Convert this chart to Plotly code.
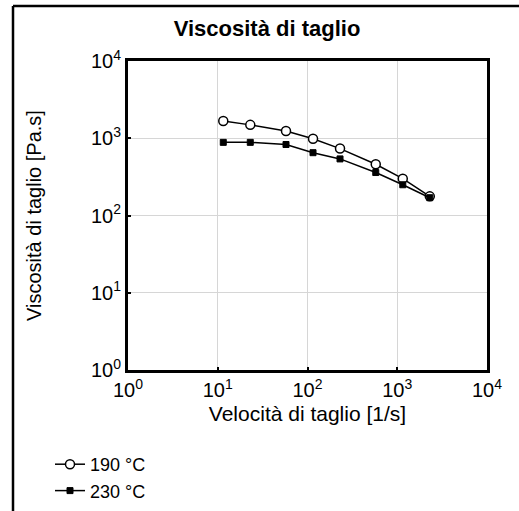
import plotly.graph_objects as go

shear_rate = [11.52, 23.04, 57.6, 115.2, 230.4, 576, 1152, 2304]
visc_190 = [1670, 1490, 1240, 985, 735, 460, 300, 177]
visc_230 = [885, 885, 830, 650, 540, 360, 250, 170]
series_names = ["190 °C", "230 °C"]
tick_vals = [1, 10, 100, 1000, 10000]
tick_text = ["10<sup>0</sup>", "10<sup>1</sup>", "10<sup>2</sup>", "10<sup>3</sup>", "10<sup>4</sup>"]

FONT = "Liberation Sans, Arial, sans-serif"
FS = 20

fig = go.Figure()
fig.add_trace(go.Scatter(
    x=shear_rate, y=visc_190, name=series_names[0], mode="lines+markers",
    line=dict(color="black", width=1.5),
    marker=dict(symbol="circle", size=9, color="white", line=dict(color="black", width=1.5)),
))
fig.add_trace(go.Scatter(
    x=shear_rate, y=visc_230, name=series_names[1], mode="lines+markers",
    line=dict(color="black", width=1.5),
    marker=dict(symbol="square", size=6, color="black", line=dict(color="black", width=1)),
))

L, R, T, B = 128, 32, 61, 141
W, H = 519, 511
pw, ph = W - L - R, H - T - B

def px2x(p):
    return (p - L) / pw

def px2y(p):
    return (H - B - p) / ph

fig.update_layout(
    width=W, height=H,
    margin=dict(l=L, r=R, t=T, b=B, autoexpand=False),
    paper_bgcolor="white", plot_bgcolor="white",
    font=dict(family=FONT, size=FS, color="black"),
    title=dict(text="<b>Viscosità di taglio</b>", x=267 / W, xref="container", xanchor="center",
               y=1 - 28 / H, yref="container", yanchor="middle",
               font=dict(family=FONT, size=22, color="black")),
    showlegend=True,
    legend=dict(x=px2x(50), y=px2y(446), xanchor="left", yanchor="top",
                font=dict(family=FONT, size=18, color="black"),
                bgcolor="rgba(0,0,0,0)", tracegroupgap=0),
    shapes=[
        dict(type="line", xref="paper", yref="paper",
             x0=px2x(13), x1=px2x(13), y0=px2y(520), y1=px2y(6),
             line=dict(color="black", width=2.5)),
        dict(type="line", xref="paper", yref="paper",
             x0=px2x(13), x1=px2x(530), y0=px2y(6), y1=px2y(6),
             line=dict(color="black", width=2.5)),
    ],
)

fig.update_xaxes(
    type="log", range=[0, 4], tickvals=tick_vals, ticktext=tick_text,
    showgrid=True, gridcolor="#d6d6d6", gridwidth=1,
    showline=True, linecolor="black", linewidth=3, mirror=True,
    ticks="inside", ticklen=3, tickwidth=2, tickcolor="black",
    tickfont=dict(family=FONT, size=FS), zeroline=False,
    title=dict(text="Velocità di taglio [1/s]", font=dict(family=FONT, size=21), standoff=7),
)
fig.update_yaxes(
    type="log", range=[0, 4], tickvals=tick_vals, ticktext=tick_text,
    showgrid=True, gridcolor="#d6d6d6", gridwidth=1,
    showline=True, linecolor="black", linewidth=3, mirror=True,
    ticks="inside", ticklen=3, tickwidth=2, tickcolor="black",
    tickfont=dict(family=FONT, size=FS), zeroline=False,
    title=dict(text="Viscosità di taglio [Pa.s]", font=dict(family=FONT, size=FS), standoff=44),
)

fig.write_html("out.html", config={"displayModeBar": False},
               post_script="document.body.style.margin='0px';")
